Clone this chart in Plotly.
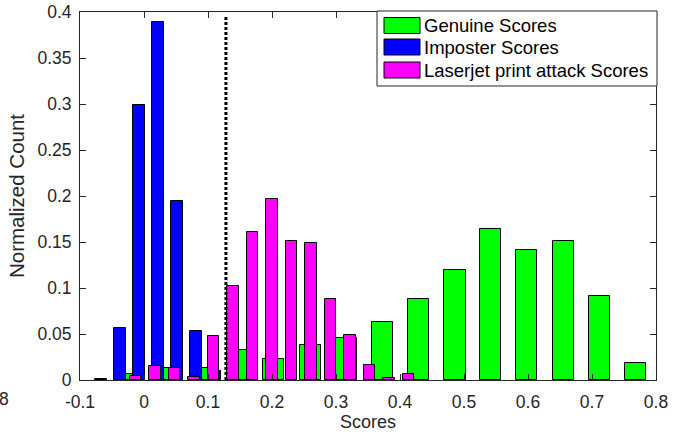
import plotly.graph_objects as go

# ---- data ----
genuine_x = [-0.022, 0.034, 0.0906, 0.147, 0.203, 0.260, 0.316, 0.373, 0.429, 0.486, 0.542, 0.598, 0.655, 0.712, 0.768]
genuine_y = [0.0065, 0.0128, 0.0128, 0.0324, 0.0225, 0.0378, 0.0458, 0.0629, 0.088, 0.1195, 0.1643, 0.1413, 0.1507, 0.0908, 0.0182]

imposter_x = [-0.067, -0.0375, -0.0078, 0.0219, 0.0516, 0.081, 0.111]
imposter_y = [0.001, 0.0563, 0.2986, 0.3895, 0.1947, 0.0537, 0.0098]

laser_x = [-0.0133, 0.0172, 0.0477, 0.0781, 0.1086, 0.139, 0.1695, 0.2, 0.2305, 0.2609, 0.2914, 0.3219, 0.3523, 0.3828, 0.4133]
laser_y = [0.004, 0.0149, 0.0127, 0.0036, 0.0476, 0.1017, 0.161, 0.197, 0.1515, 0.1486, 0.088, 0.0487, 0.016, 0.0018, 0.0062]

threshold = 0.128

series_names = ["Genuine Scores", "Imposter Scores", "Laserjet print attack Scores"]
series_colors = ["#00FF00", "#0000FF", "#FF00FF"]

x_ticks = [-0.1, 0, 0.1, 0.2, 0.3, 0.4, 0.5, 0.6, 0.7, 0.8]
x_tick_text = ["-0.1", "0", "0.1", "0.2", "0.3", "0.4", "0.5", "0.6", "0.7", "0.8"]
y_ticks = [0, 0.05, 0.1, 0.15, 0.2, 0.25, 0.3, 0.35, 0.4]
y_tick_text = ["0", "0.05", "0.1", "0.15", "0.2", "0.25", "0.3", "0.35", "0.4"]

FONT = "Liberation Sans, Arial, Helvetica, sans-serif"
FS_TICK = 17.5
FS_LEG = 18.5
AX = "#262626"

W, H = 684, 435
L, R, T, B = 80, 28, 12, 55
PW, PH = W - L - R, H - T - B


def px(xp):
    return (xp - L) / PW


def py(yp):
    return (H - B - yp) / PH


fig = go.Figure()
widths = [0.033, 0.018, 0.018]
for name, color, xs, ys, w in zip(series_names, series_colors,
                                  [genuine_x, imposter_x, laser_x],
                                  [genuine_y, imposter_y, laser_y], widths):
    fig.add_trace(go.Bar(x=xs, y=ys, width=w, name=name,
                         marker=dict(color=color, line=dict(color="black", width=1)),
                         showlegend=False))

shapes = [
    dict(type="line", xref="x", yref="paper", x0=threshold, x1=threshold,
         y0=0, y1=py(15), line=dict(color="black", width=3, dash="3px,2px")),
    # legend box
    dict(type="rect", xref="paper", yref="paper", x0=px(377), x1=px(657),
         y0=py(86), y1=py(11), line=dict(color=AX, width=1), fillcolor="white"),
]
annotations = []
rows = [(17.5, 33.5), (39, 55), (62, 78)]
for (y0, y1), name, color in zip(rows, series_names, series_colors):
    shapes.append(dict(type="rect", xref="paper", yref="paper", x0=px(384), x1=px(420),
                       y0=py(y1), y1=py(y0), line=dict(color="black", width=1),
                       fillcolor=color))
    annotations.append(dict(text=name, xref="paper", yref="paper", x=px(422),
                            y=py((y0 + y1) / 2), xanchor="left", yanchor="middle",
                            showarrow=False, font=dict(family=FONT, size=FS_LEG, color="black")))

annotations.append(dict(text="8", xref="paper", yref="paper", x=px(4), y=py(399),
                        xanchor="center", yanchor="middle", showarrow=False,
                        font=dict(family=FONT, size=FS_TICK, color=AX)))

fig.update_layout(
    width=W, height=H, barmode="overlay", bargap=0,
    margin=dict(l=L, r=R, t=T, b=B, autoexpand=False),
    paper_bgcolor="white", plot_bgcolor="white",
    font=dict(family=FONT, size=FS_TICK, color=AX),
    shapes=shapes, annotations=annotations,
)
fig.update_xaxes(range=[-0.1, 0.8], tickvals=x_ticks, ticktext=x_tick_text,
                 ticks="inside", ticklen=6, tickcolor=AX, showline=True, linecolor=AX,
                 linewidth=1, mirror="ticks", showgrid=False, zeroline=False,
                 ticklabelstandoff=6,
                 title=dict(text="Scores", standoff=3, font=dict(family=FONT, size=18, color=AX)))
fig.update_yaxes(range=[0, 0.4], tickvals=y_ticks, ticktext=y_tick_text,
                 ticks="inside", ticklen=6, tickcolor=AX, showline=True, linecolor=AX,
                 linewidth=1, mirror="ticks", showgrid=False, zeroline=False,
                 ticklabelstandoff=4,
                 title=dict(text="Normalized Count", standoff=7, font=dict(family=FONT, size=20.5, color=AX)))

fig.write_html("out.html", config={"displayModeBar": False},
               post_script="document.body.style.margin='0';")
